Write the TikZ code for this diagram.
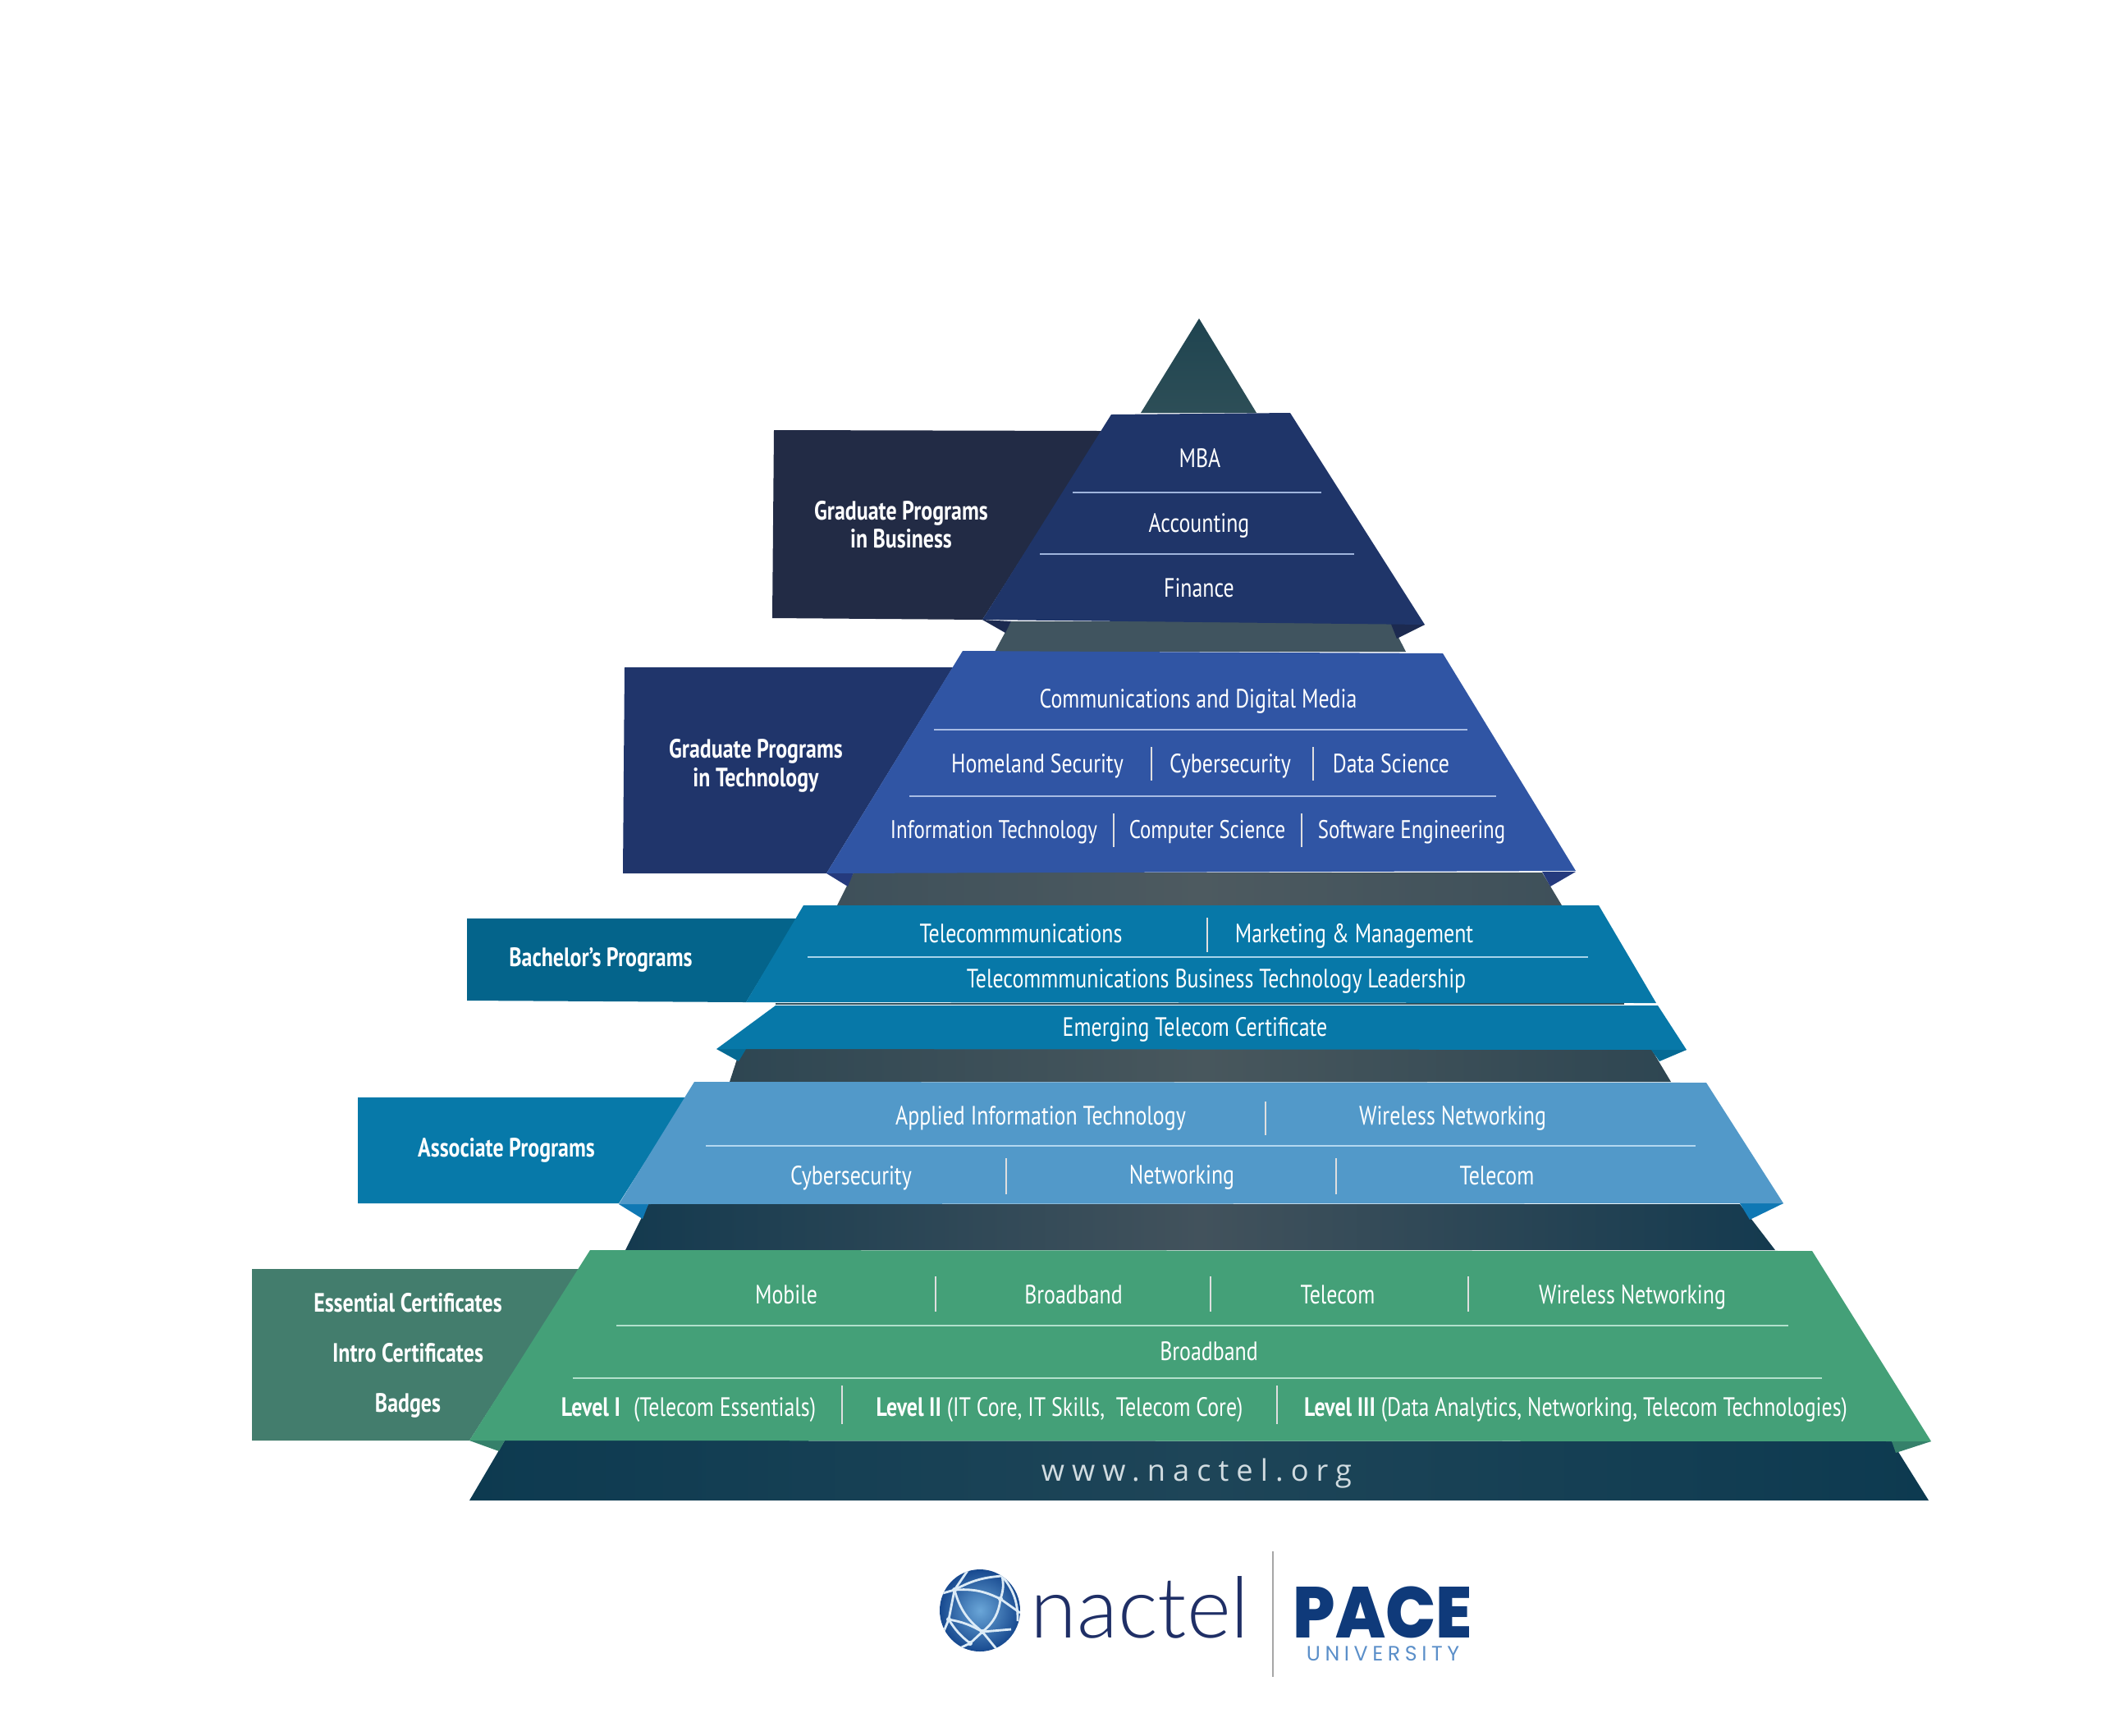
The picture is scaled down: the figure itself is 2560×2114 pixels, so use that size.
\documentclass[tikz,border=0pt]{standalone}
\usepackage{fontspec}
\setmainfont[FakeStretch=.8]{PT Sans}
\newfontfamily\urlfont[LetterSpace=25]{Open Sans}
\newfontfamily\nactelfont{Lato Light}
\newfontfamily\pacefont[FakeStretch=.92]{Poppins ExtraBold}
\newfontfamily\unifont[LetterSpace=22]{Poppins}

\definecolor{tiptop}{HTML}{1F4450}
\definecolor{tipbot}{HTML}{2D4E57}
\definecolor{stepa}{HTML}{40545F}
\definecolor{stepbe}{HTML}{3E505A}
\definecolor{stepbm}{HTML}{4D5A60}
\definecolor{stepce}{HTML}{2E4652}
\definecolor{stepcm}{HTML}{48575D}
\definecolor{stepde}{HTML}{143A4F}
\definecolor{stepdm}{HTML}{42525C}
\definecolor{basee}{HTML}{0D3A50}
\definecolor{basem}{HTML}{1E4558}
\definecolor{seam}{HTML}{2F5260}
\definecolor{bizbox}{HTML}{222B45}
\definecolor{bizband}{HTML}{1F3569}
\definecolor{bizfold}{HTML}{1C2A50}
\definecolor{bizrule}{HTML}{9FB4DC}
\definecolor{techbox}{HTML}{20356B}
\definecolor{techband}{HTML}{3055A4}
\definecolor{techfold}{HTML}{253A7D}
\definecolor{techrule}{HTML}{A8BCE4}
\definecolor{bachbox}{HTML}{04648B}
\definecolor{bachband}{HTML}{0778A8}
\definecolor{bachfold}{HTML}{056A94}
\definecolor{bachrule}{HTML}{A6D4EA}
\definecolor{assocbox}{HTML}{0779A9}
\definecolor{assocband}{HTML}{5299C9}
\definecolor{assocfold}{HTML}{0F78B4}
\definecolor{assocrule}{HTML}{B4D8F0}
\definecolor{certbox}{HTML}{437D6D}
\definecolor{certband}{HTML}{44A078}
\definecolor{certfold}{HTML}{35806A}
\definecolor{certrule}{HTML}{B2E0CC}
\definecolor{globein}{HTML}{6AA6D8}
\definecolor{globeout}{HTML}{17498F}
\definecolor{globenet}{HTML}{DCEBF6}
\definecolor{nacblue}{HTML}{1F2F66}
\definecolor{paceblue}{HTML}{0F3A7A}
\definecolor{unitint}{HTML}{5B8FC9}
\definecolor{urlc}{HTML}{D0DBE0}

\begin{document}
\begin{tikzpicture}[x=.01cm,y=-.01cm,
  lbl/.style={text=white,font=\fontsize{9.2}{11}\selectfont,inner sep=0,text height=6.4pt,text depth=0pt},
  tight/.style={lbl,font=\fontsize{8.85}{11}\selectfont},
  hd/.style={lbl,font=\fontsize{9.2}{11}\selectfont\bfseries},
  rule/.style={line width=.5pt},
  bar/.style={line width=.3pt,white!75!gray},
  net/.style={globenet,line width=.8pt}
  ]
  \useasboundingbox (0,0) rectangle (2560,2114);
  % apex and the dark steps between bands
  \path[top color=tiptop,bottom color=tipbot] (1461,388) -- (1531,503) -- (1390,503) -- cycle;
  \fill[stepa] (1232,757) -- (1694,757) -- (1713,794) -- (1212,794) -- cycle;
  \path[left color=stepbe,right color=stepbe,middle color=stepbm] (1040,1063) -- (1879,1063) -- (1903,1103) -- (1020,1103) -- cycle;
  \path[left color=stepce,right color=stepce,middle color=stepcm] (902,1278) -- (2012,1278) -- (2036,1318) -- (889,1318) -- cycle;
  \path[left color=stepde,right color=stepde,middle color=stepdm] (790,1467) -- (2120,1467) -- (2163,1523) -- (762,1523) -- cycle;
  \path[left color=basee,right color=basee,middle color=basem] (615,1755) -- (2305,1756) -- (2350,1828) -- (572,1828) -- cycle;
  % folds at the band ends
  \fill[bizfold] (1197,755) -- (1225,771) -- (1232,757) -- cycle;
  \fill[bizfold] (1736,761) -- (1702,778) -- (1694,758) -- cycle;
  \fill[techfold] (1007,1064) -- (1033,1080) -- (1040,1063) -- cycle;
  \fill[techfold] (1920,1062) -- (1889,1080) -- (1879,1062) -- cycle;
  \fill[bachfold] (873,1278) -- (900,1293) -- (909,1278) -- cycle;
  \fill[bachfold] (2055,1279) -- (2022,1293) -- (2012,1279) -- cycle;
  \fill[assocfold] (754,1467) -- (783,1485) -- (790,1467) -- cycle;
  \fill[assocfold] (2173,1466) -- (2132,1486) -- (2120,1466) -- cycle;
  \fill[certfold] (572,1755) -- (608,1768) -- (615,1755) -- cycle;
  \fill[certfold] (2353,1756) -- (2310,1770) -- (2305,1756) -- cycle;
  % side boxes
  \fill[bizbox] (943,524) -- (1343,525) -- (1197,755) -- (941,753) -- cycle;
  \fill[techbox] (761,813) -- (1161,813) -- (1007,1064) -- (759,1064) -- cycle;
  \fill[bachbox] (569,1119) -- (971,1119) -- (909,1221) -- (569,1219) -- cycle;
  \fill[assocbox] (436,1337) -- (836,1337) -- (754,1466) -- (436,1466) -- cycle;
  \fill[certbox] (307,1546) -- (706,1546) -- (572,1755) -- (307,1755) -- cycle;
  % bands
  \fill[bizband] (1354,505) -- (1572,503) -- (1736,761) -- (1197,755) -- cycle;
  \fill[techband] (1173,793) -- (1758,796) -- (1920,1061) -- (1007,1064) -- cycle;
  \fill[bachband] (979,1103) -- (1948,1103) -- (2018,1222) -- (909,1221) -- cycle;
  \draw[line width=.8pt,seam] (945,1223) -- (1979,1223);
  \fill[bachband] (945,1225) -- (2020,1225) -- (2055,1279) -- (873,1278) -- cycle;
  \fill[assocband] (846,1318) -- (2079,1319) -- (2173,1466) -- (754,1467) -- cycle;
  \fill[certband] (719,1523) -- (2208,1524) -- (2353,1756) -- (572,1755) -- cycle;
  % rules inside the bands
  \draw[rule,bizrule] (1307,600) -- (1610,600);
  \draw[rule,bizrule] (1267,675) -- (1650,675);
  \draw[rule,techrule] (1138,889) -- (1788,889);
  \draw[rule,techrule] (1108,970) -- (1823,970);
  \draw[rule,bachrule] (984,1166) -- (1935,1166);
  \draw[rule,assocrule] (860,1396) -- (2066,1396);
  \draw[rule,certrule] (751,1615) -- (2179,1615);
  \draw[rule,certrule] (698,1679) -- (2220,1679);
  \foreach \x/\ya/\yb in {1403/910/951,1600/910/951,1357/991/1032,1586/991/1032,1471/1118/1160,1542/1342/1383,1226/1411/1455,1628/1411/1455,1140/1555/1598,1475/1555/1598,1789/1555/1598,1026/1688/1735,1556/1688/1735}
    \draw[bar] (\x,\ya) -- (\x,\yb);
  % band labels
  \foreach \nm/\px/\py/\txt in {
    mba/1462/558/MBA,acc/1461/637/Accounting,fin/1461/716/Finance,
    cdm/1460/851/Communications and Digital Media,
    hom/1264/930/Homeland Security,cyb/1499/930/Cybersecurity,dat/1695/930/Data Science,
    tel/1244/1137/Telecommmunications,mar/1650/1137/Marketing \& Management,
    tbt/1482/1192/Telecommmunications Business Technology Leadership,
    eme/1456/1251/Emerging Telecom Certificate,
    app/1268/1359/Applied Information Technology,wir/1770/1359/Wireless Networking,
    cys/1037/1432/Cybersecurity,net/1440/1431/Networking,tlc/1824/1432/Telecom,
    mob/958/1577/Mobile,bro/1308/1577/Broadband,tcm/1630/1577/Telecom,wrl/1989/1577/Wireless Networking,
    brd/1473/1646/Broadband}
    \node[lbl] (\nm) at (\px,\py) {\txt};
  \node[tight] (inf) at (1211,1010) {Information Technology};
  \node[tight] (com) at (1471,1010) {Computer Science};
  \node[tight] (sof) at (1720,1010) {Software Engineering};
  \node[lbl] (lv1) at (839,1714) {\textbf{Level I}\enspace(Telecom Essentials)};
  \node[lbl] (lv2) at (1291,1714) {\textbf{Level II} (IT Core, IT Skills,\ \ Telecom Core)};
  \node[lbl] (lv3) at (1920,1714) {\textbf{Level III} (Data Analytics, Networking, Telecom Technologies)};
  % side labels
  \node[hd] (gb1) at (1098,622) {Graduate Programs};
  \node[hd] (gb2) at (1098,656) {in Business};
  \node[hd] (gt1) at (921,912) {Graduate Programs};
  \node[hd] (gt2) at (921,947) {in Technology};
  \node[hd] (bac) at (732,1166) {Bachelor's Programs};
  \node[hd] (aso) at (617,1398) {Associate Programs};
  \node[hd] (ess) at (497,1587) {Essential Certificates};
  \node[hd] (int) at (497,1648) {Intro Certificates};
  \node[hd] (bad) at (497,1709) {Badges};
  \node[inner sep=0,text=urlc,font=\fontsize{10.3}{12}\urlfont] (url) at (1458,1795) {www.nactel.org};
  % logos
  \shade[inner color=globein,outer color=globeout] (1194,1962) ellipse (49 and 50);
  \coordinate (gf) at (1221,1920);
  \coordinate (ga) at (1163,1937);
  \coordinate (gb) at (1219,1948);
  \coordinate (gc) at (1156,1973);
  \coordinate (gd) at (1197,1988);
  \coordinate (ge) at (1182,2002);
  \begin{scope}
    \clip (1194,1962) ellipse (49 and 50);
    \draw[net] (1145,1942) -- (ga) to[bend left=12] (gf);
    \draw[net] (ga) to[bend left=15] (gb);
    \draw[net] (ga) to[bend right=18] (gd);
    \draw[net] (gb) to[bend left=22] (gd);
    \draw[net] (gf) to[bend left=15] (gb);
    \draw[net] (gc) -- (ga) -- (1180,1912);
    \draw[net] (gc) to[bend left=10] (gd);
    \draw[net] (gc) to[bend right=10] (ge);
    \draw[net] (gd) -- (ge);
    \draw[net] (gb) -- (1243,1965);
    \draw[net] (gf) to[bend left=20] (1240,1975);
    \draw[net] (gd) -- (1232,1985);
    \draw[net] (gd) -- (1215,2010);
    \draw[net] (ge) -- (1165,2010);
    \draw[net] (gc) -- (1148,1992);
    \foreach \g in {ga,gb,gc,gd,ge}
      \fill[globenet] (\g) circle (3);
  \end{scope}
  \node[inner sep=0,anchor=base west,text=nacblue,font=\fontsize{29.3}{31}\nactelfont] (nac) at (1255,1995) {nactel};
  \node[inner sep=0,anchor=base,text=paceblue,font=\fontsize{25}{26}\pacefont] (pac) at (1685,1995) {PACE};
  \node[inner sep=0,anchor=base,text=unitint,font=\fontsize{7.2}{8}\unifont] (uni) at (1685,2023) {UNIVERSITY};
  \draw[gray!70,line width=.4pt] (1551,1890) -- (1551,2043);
\end{tikzpicture}
\end{document}
